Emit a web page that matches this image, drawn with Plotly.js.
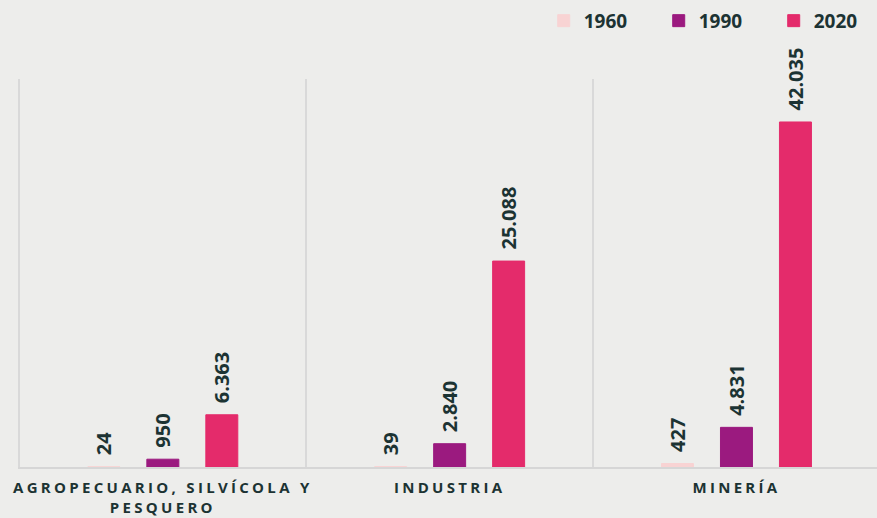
<!DOCTYPE html>
<html>
<head>
<meta charset="utf-8">
<script src="https://cdn.plot.ly/plotly-3.0.1.min.js"></script>
<style>
html,body{margin:0;padding:0;background:#ededeb;}
#chart{width:877px;height:518px;}
.xtick text{letter-spacing:3.3px;}
</style>
</head>
<body>
<div id="chart"></div>
<script>
var categories = ["AGROPECUARIO, SILVÍCOLA Y<br>PESQUERO", "INDUSTRIA", "MINERÍA"];
var years = ["1960", "1990", "2020"];
var v1960 = [24, 39, 427];
var v1990 = [950, 2840, 4831];
var v2020 = [6363, 25088, 42035];

var colors = ["#f8d3d3", "#9b1a7f", "#e42b6b"];
var series = [v1960, v1990, v2020];
var dark = "#1c3333";
var font = "Open Sans, Noto Sans, sans-serif";

var traces = series.map(function(vals, i){
  return {
    type: "bar",
    name: years[i],
    x: categories,
    y: vals,
    marker: {color: colors[i], line: {color: colors[i], width: 1}},
    texttemplate: "\u00a0\u2009%{y:,}",
    textposition: "outside",
    textangle: -90,
    constraintext: "none",
    cliponaxis: false,
    textfont: {family: font, size: 20, color: dark, weight: 700},
    hoverinfo: "skip"
  };
});

var layout = {
  width: 877, height: 518,
  paper_bgcolor: "#ededeb",
  plot_bgcolor: "#ededeb",
  margin: {l: 18, r: 0, t: 79, b: 51, autoexpand: false},
  separators: ",.",
  barmode: "group",
  bargap: 0.383,
  bargroupgap: 0.458,
  showlegend: true,
  legend: {
    orientation: "h",
    x: 0.612, xanchor: "left",
    y: 1.15, yanchor: "middle",
    entrywidth: 70, entrywidthmode: "pixels",
    font: {family: font, size: 19, color: dark, weight: 700},
    bgcolor: "rgba(0,0,0,0)"
  },
  xaxis: {
    type: "category",
    range: [-0.505, 2.49],
    tickson: "boundaries",
    showgrid: true,
    gridcolor: "#d9d9d9",
    gridwidth: 2,
    showline: true,
    linecolor: "#d6d6d6",
    linewidth: 2,
    ticks: "",
    tickangle: 0,
    automargin: false,
    ticklabelstandoff: 6,
    tickfont: {family: font, size: 15, color: dark, weight: 700},
    fixedrange: true
  },
  yaxis: {
    range: [0, 47270],
    visible: false,
    showgrid: false,
    zeroline: false,
    fixedrange: true
  }
};

Plotly.newPlot("chart", traces, layout, {displayModeBar: false, staticPlot: true});
</script>
</body>
</html>
